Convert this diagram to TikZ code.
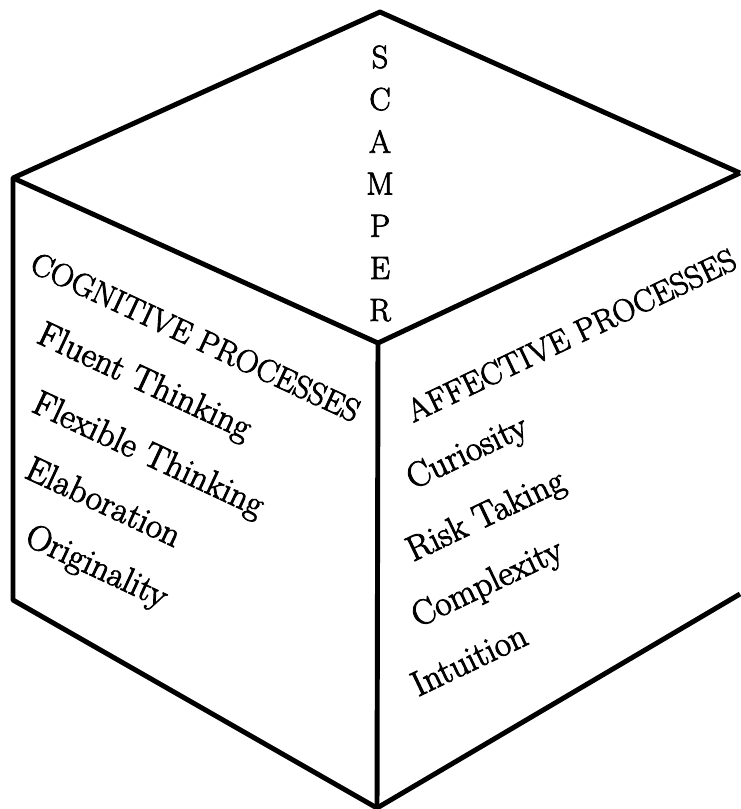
\documentclass[tikz,border=0pt]{standalone}
\usepackage{fontspec}
\newfontfamily\cubefont{Latin Modern Roman}[FakeBold=2.5]
\usepackage{tikz}

\tikzset{
  cubeline/.style={line width=3.7pt, line join=round},
  facetext/.style={font=\cubefont\fontsize{26.5}{30}\selectfont, anchor=base west, inner sep=0pt},
  headtext/.style={font=\cubefont\fontsize{24}{28}\selectfont},
  lefttext/.style={facetext, rotate=-25},
  righttext/.style={facetext, rotate=25.5},
}

\begin{document}
\begin{tikzpicture}[x=0.75pt,y=-0.75pt]
\useasboundingbox (0,0) rectangle (740,809);

% Corners of the cube
\coordinate (top) at (380,12);
\coordinate (lt)  at (13,178);
\coordinate (mid) at (378,343);
\coordinate (rt)  at (740,173);
\coordinate (lb)  at (13,600);
\coordinate (bot) at (377,808);
\coordinate (rb)  at (740,594);

% Outline and inner edges
\draw[cubeline] (rt) -- (top) -- (lt) -- (lb) -- (bot) -- (rb);
\draw[cubeline] (lt) -- (mid) -- (rt);
\draw[cubeline] (mid) -- (bot);

% Top face: SCAMPER down the middle
\foreach \ch [count=\i from 0] in {S,C,A,M,P,E,R}
  \node[headtext, inner sep=0pt] (scamper\i) at (380,57+42.2*\i) {\ch};

% Left face
\node[lefttext,headtext] (cog) at (28,271) {COGNITIVE PROCESSES};
\node[lefttext] (fluent) at (35,342) {Fluent Thinking};
\node[lefttext] (flex)  at (30,411)  {Flexible Thinking};
\node[lefttext] (elab)  at (23,477)  {Elaboration};
\node[lefttext] (orig)  at (23,544)  {Originality};

% Right face
\node[righttext,headtext] (aff) at (413,423) {AFFECTIVE PROCESSES};
\node[righttext] (cur)  at (413,490) {Curiosity};
\node[righttext] (risk) at (413,562) {Risk Taking};
\node[righttext] (comp) at (418,628) {Complexity};
\node[righttext] (intu) at (418,697) {Intuition};
\end{tikzpicture}
\end{document}
